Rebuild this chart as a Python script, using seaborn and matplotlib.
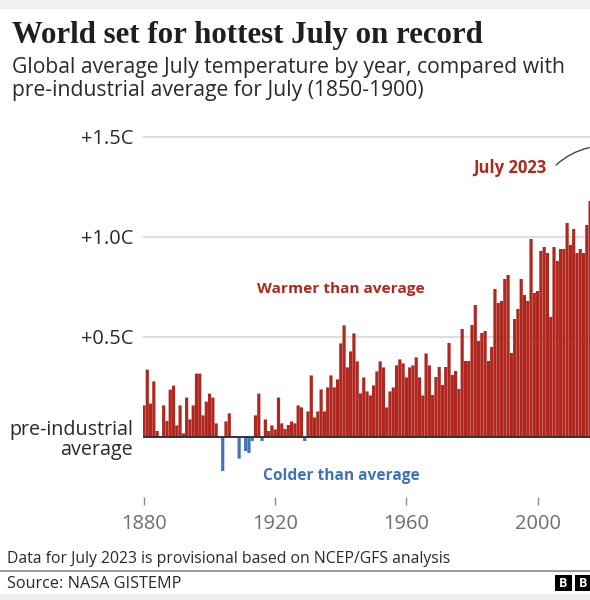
import matplotlib
matplotlib.use('Agg')
import matplotlib.pyplot as plt
from matplotlib.patches import Rectangle
import numpy as np
import pandas
import seaborn as sns

years = list(range(1880, 2017))
anomaly = [
    .158, .337, .167, .278, .03, 0, .158, .08, .237, .257,
    .058, .158, .018, .197, .088, .158, .317, .317, .108, .177,
    .217, .197, .068, 0, -.17, .078, .118, 0, -.005, -.108,
    0, -.07, -.08, -.02, .108, .217, -.02, .088, .03, .058,
    .038, .197, .068, .04, .06, .078, .068, .158, .148, -.02,
    .128, .308, .098, .128, .238, .128, .248, .308, .248, .288,
    .468, .558, .348, .428, .518, .378, .218, .298, .228, .208,
    .258, .328, .378, .348, .148, .228, .248, .358, .388, .368,
    .298, .348, .358, .398, .298, .208, .418, .358, .21, .30,
    .35, .26, .35, .47, .31, .33, .24, .54, .38, .38,
    .56, .66, .48, .52, .53, .38, .45, .74, .67, .68,
    .79, .81, .42, .59, .64, .79, .71, .68, .99, .72,
    .73, .93, .95, .92, .60, .95, .88, .94, .94, 1.07,
    .96, 1.04, .92, .94, .92, 1.06, 1.18,
]
y_ticks = [0, 0.5, 1.0, 1.5]
y_labels = ['+0.5C', '+1.0C', '+1.5C']
x_ticks = [1880, 1920, 1960, 2000]

RED = '#b0271f'
BLUE = '#3f74b5'
GREY = '#dedede'
TEXT = '#2a2a2a'
FONT = 'Open Sans'

df = pandas.DataFrame({'year': years, 'anomaly': anomaly})
df['side'] = ['warm' if v >= 0 else 'cold' for v in df['anomaly']]

W, H = 590, 600
fig = plt.figure(figsize=(W / 100, H / 100), dpi=100)
sns.set_style('white')
plt.rcParams['font.family'] = [FONT, 'DejaVu Sans']

# axes placed in pixels: 1880 at x=144, 0 at y=437, 200 px per degree
left, right, top, bottom = 142.5, 590, 125, 497
ax = fig.add_axes([left / W, 1 - bottom / H, (right - left) / W, (bottom - top) / H])
ax.patch.set_visible(False)

sns.barplot(data=df, x='year', y='anomaly', hue='side', palette={'warm': RED, 'cold': BLUE},
            native_scale=True, dodge=False, width=0.97, legend=False, ax=ax, zorder=3,
            saturation=1, linewidth=0)
# no pixel snapping, so neighbouring bars keep an even soft gap
for p in ax.patches:
    p.set_snap(False)

ax.set_xlim(1880 - 1.5 / 3.28, 1880 + (right - 144) / 3.28)
ax.set_ylim((437 - bottom) / 200, (437 - top) / 200)
for s in ax.spines.values():
    s.set_visible(False)
ax.set_xlabel('')
ax.set_ylabel('')

ax.set_yticks(y_ticks)
ax.set_yticklabels([])
ax.tick_params(axis='y', length=0)
for v in y_ticks[1:]:
    ax.axhline(v, color=GREY, lw=1.5, zorder=1)
ax.axhline(0, color='#333333', lw=1.4, zorder=4)

ax.set_xticks(x_ticks)
ax.set_xticklabels(x_ticks, fontsize=14.4, color='#6e6e6e')
ax.tick_params(axis='x', length=6, width=1, color='#8a8a8a', pad=6, bottom=True)


def px(x, y):
    return x / W, 1 - y / H


def put(x, y, s, **kw):
    fig.text(*px(x, y), s, **kw)


for v, lab in zip(y_ticks[1:], y_labels):
    put(133, 439 - v * 200, lab, ha='right', va='center', fontsize=14.4, color=TEXT)
put(133, 430, 'pre-industrial', ha='right', va='center', fontsize=14.2, color=TEXT)
put(133, 450.5, 'average', ha='right', va='center', fontsize=14.2, color=TEXT)

put(341, 289, 'Warmer than average', ha='center', va='center', fontsize=11.1, fontweight='bold', color=RED)
put(341, 476, 'Colder than average', ha='center', va='center', fontsize=11.2, fontweight='bold', color=BLUE)
put(510, 168, 'July 2023', ha='center', va='center', fontsize=12, fontweight='bold', color=RED)

put(12, 35, 'World set for hottest July on record', ha='left', va='center', fontsize=22.2,
    fontweight='bold', family=['Liberation Serif'], color='#1f1f1f')
put(12, 67, 'Global average July temperature by year, compared with', ha='left', va='center',
    fontsize=15.2, color=TEXT)
put(12, 91, 'pre-industrial average for July (1850-1900)', ha='left', va='center', fontsize=15.2, color=TEXT)

put(7, 559, 'Data for July 2023 is provisional based on NCEP/GFS analysis', ha='left', va='center',
    fontsize=11.3, color=TEXT)
put(7, 583.5, 'Source: NASA GISTEMP', ha='left', va='center', fontsize=11.7, color=TEXT)

# annotation curve to the record bar
fig.add_artist(matplotlib.patches.FancyArrowPatch(px(554, 167), px(592, 147), connectionstyle='arc3,rad=-0.15',
                                                  arrowstyle='-', lw=1, color='#444444',
                                                  transform=fig.transFigure))

fig.add_artist(plt.Line2D([0, 1], [1 - 570.5 / H] * 2, color='#8a8a8a', lw=1.2, transform=fig.transFigure))
fig.add_artist(Rectangle(px(0, 600), 1, 6 / H, color='#f0f0f0', lw=0, transform=fig.transFigure))
fig.add_artist(Rectangle(px(0, 9), 1, 9 / H, color='#f0f0f0', lw=0, transform=fig.transFigure))

# logo boxes, third one runs off the crop
for x0 in (555, 575):
    fig.add_artist(Rectangle(px(x0, 591), 17 / W, 16 / H, color='black', lw=0, transform=fig.transFigure))
    put(x0 + 8.5, 583.5, 'B', ha='center', va='center', fontsize=9, fontweight='bold', color='white')

fig.savefig('out.png', dpi=100)
